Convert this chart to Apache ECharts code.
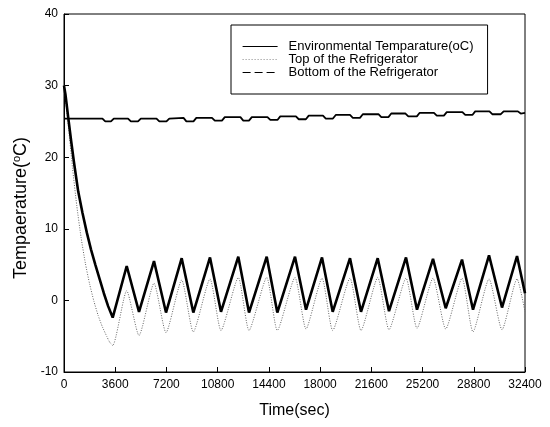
<!DOCTYPE html>
<html style="height: 100%">
<head>
<meta charset="utf-8">
<script src="https://cdn.jsdelivr.net/npm/echarts@6/dist/echarts.min.js"></script>
</head>
<body style="height: 100%; margin: 0; background: #fff">
<div id="container" style="width: 550px; height: 427px"></div>
<script type="text/javascript">
// environmental temperature
var envTime = [0, 200, 1500, 2700, 2900, 3300, 3500, 4500, 4700, 5200, 5400, 6500, 6700, 7200, 7400,
    8400, 8600, 9100, 9300, 10400, 10600, 11100, 11300, 12400, 12600, 13000, 13200, 14300, 14500,
    15000, 15200, 16300, 16500, 17000, 17200, 18200, 18400, 18900, 19100, 20100, 20300, 20800, 21000,
    22100, 22300, 22800, 23000, 24000, 24200, 24800, 25000, 26000, 26200, 26700, 26900, 28000, 28200,
    28700, 28900, 29900, 30100, 30700, 30900, 31900, 32100, 32400];
var envTemp = [25.4, 25.4, 25.4, 25.4, 25.0, 25.0, 25.4, 25.4, 25.0, 25.0, 25.4, 25.4, 25.0, 25.0, 25.4,
    25.5, 25.0, 25.0, 25.5, 25.5, 25.1, 25.1, 25.6, 25.6, 25.1, 25.1, 25.6, 25.6, 25.2,
    25.2, 25.7, 25.7, 25.3, 25.3, 25.8, 25.8, 25.4, 25.4, 25.9, 25.9, 25.5, 25.5, 26.0,
    26.0, 25.6, 25.6, 26.1, 26.1, 25.7, 25.7, 26.2, 26.2, 25.8, 25.8, 26.3, 26.3, 25.9,
    25.9, 26.4, 26.4, 26.0, 26.0, 26.4, 26.4, 26.1, 26.2];

// top of the refrigerator (dotted)
var topTime = [0, 300, 600, 900, 1200, 1500, 1800, 2100, 2400, 2700, 3000, 3200, 3423,
    4407, 5271, 6325, 7169, 8272, 9088, 10261, 11034, 12250, 13003, 14247, 14992, 16235, 17009,
    18133, 18885, 20101, 20874, 22048, 22842, 24037, 24810, 25935, 26827, 27973, 28746, 29871,
    30784, 31839, 32400];
var topTemp = [30, 24.5, 18.5, 13.2, 8.8, 5.2, 2.3, -0.1, -2.1, -3.7, -5.0, -5.8, -6.3,
    1.35, -4.9, 2.4, -4.5, 2.85, -4.4, 3.0, -4.2, 3.2, -4.2, 3.2, -4.2, 3.2, -4.0,
    3.1, -4.2, 3.1, -4.2, 3.2, -4.1, 3.1, -3.9, 3.1, -4.0, 3.1, -4.4, 3.0,
    -4.1, 3.0, -1.6];

// bottom of the refrigerator (thick line)
var botTime = [0, 100, 300, 500, 700, 1000, 1300, 1600, 1900, 2200, 2500, 2800, 3100, 3423,
    4407, 5271, 6325, 7169, 8272, 9088, 10261, 11034, 12250, 13003, 14247, 14992, 16235, 17009,
    18133, 18885, 20101, 20874, 22048, 22842, 24037, 24810, 25935, 26827, 27973, 28746, 29871,
    30784, 31839, 32400];
var botTemp = [30, 28.8, 25.5, 22.3, 19.3, 15.2, 12.2, 9.5, 7.1, 5.0, 3.0, 1.0, -0.8, -2.4,
    4.8, -1.6, 5.5, -1.7, 5.9, -1.7, 6.0, -1.6, 6.1, -1.7, 6.1, -1.7, 6.1, -1.3,
    6.0, -1.6, 5.9, -1.6, 5.9, -1.5, 6.0, -1.3, 5.8, -1.1, 5.7, -1.3, 6.3,
    -1.0, 6.2, 1.0];

function zip(t, v) {
    return t.map(function (x, i) { return [x, v[i]]; });
}

var myChart = echarts.init(document.getElementById('container'));
var font = 'Arial, "Liberation Sans", sans-serif';

var option = {
    backgroundColor: '#fff',
    animation: false,
    grid: {
        left: 64, right: 25, top: 14, bottom: 55,
        show: true, borderColor: '#000', borderWidth: 1
    },
    legend: {
        orient: 'vertical',
        left: 231, top: 25,
        padding: [15, 14, 15, 11],
        itemGap: 0,
        itemWidth: 35,
        itemHeight: 10,
        borderColor: '#000',
        borderWidth: 1,
        itemStyle: { opacity: 0 },
        textStyle: { fontFamily: font, fontSize: 13, lineHeight: 11, color: '#000', padding: [0, 0, 0, 6] },
        data: [
            { name: 'Environmental Temparature(oC)', lineStyle: { color: '#000', width: 1.2, type: 'solid' } },
            { name: 'Top of the Refrigerator', lineStyle: { color: '#888', width: 1, type: [1, 2] } },
            { name: 'Bottom of the Refrigerator', lineStyle: { color: '#000', width: 1.2, type: [8, 4] } }
        ]
    },
    xAxis: {
        type: 'value',
        min: 0, max: 32400, interval: 3600,
        name: 'Time(sec)',
        nameLocation: 'middle',
        nameGap: 31,
        nameTextStyle: { fontFamily: font, fontSize: 16, color: '#000' },
        axisLine: { onZero: false, lineStyle: { color: '#000' } },
        axisTick: { inside: true, length: 5, lineStyle: { color: '#000' } },
        axisLabel: {
            fontFamily: font, fontSize: 12, color: '#000', margin: 7,
            formatter: function (v) { return String(v); }
        },
        splitLine: { show: false }
    },
    yAxis: {
        type: 'value',
        min: -10, max: 40, interval: 10,
        name: 'Tempaerature({s|o}C)',
        nameLocation: 'middle',
        nameGap: 33,
        nameTextStyle: {
            fontFamily: font, fontSize: 18, color: '#000',
            padding: [0, 30, 0, 0],
            rich: { s: { fontFamily: font, fontSize: 11, verticalAlign: 'top', lineHeight: 11, color: '#000' } }
        },
        axisLine: { onZero: false, lineStyle: { color: '#000' } },
        axisTick: { inside: true, length: 5, lineStyle: { color: '#000' } },
        axisLabel: { fontFamily: font, fontSize: 12, color: '#000', margin: 6 },
        splitLine: { show: false }
    },
    series: [
        {
            name: 'Environmental Temparature(oC)',
            type: 'line',
            symbol: 'none',
            data: zip(envTime, envTemp),
            lineStyle: { color: '#000', width: 1.8 }
        },
        {
            name: 'Top of the Refrigerator',
            type: 'line',
            symbol: 'none',
            smooth: 0.2,
            data: zip(topTime, topTemp),
            lineStyle: { color: '#666', width: 1, type: [1, 1.5] }
        },
        {
            name: 'Bottom of the Refrigerator',
            type: 'line',
            symbol: 'none',
            data: zip(botTime, botTemp),
            lineStyle: { color: '#000', width: 2.6 }
        }
    ]
};

myChart.setOption(option);
</script>
</body>
</html>
